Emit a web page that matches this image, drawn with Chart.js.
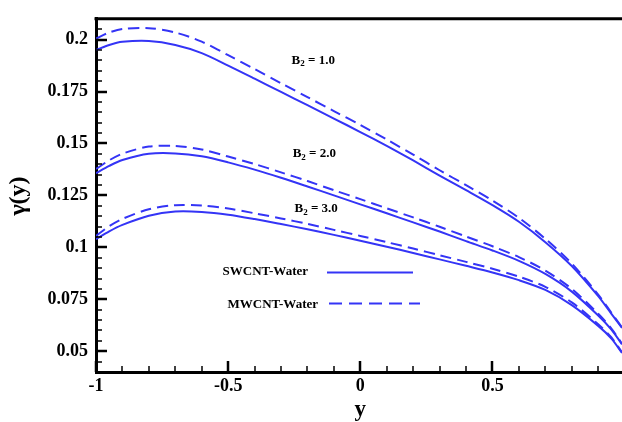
<!DOCTYPE html>
<html lang="en">
<head>
  <meta charset="UTF-8" />
  <title>gamma(y) profiles</title>
  <script src="https://cdn.jsdelivr.net/npm/chart.js"></script>
  <style>
    html, body { margin: 0; padding: 0; background: #fff; }
    #wrap { width: 622px; height: 422px; }
  </style>
</head>
<body>
  <div id="wrap"><canvas id="gammaChart" width="622" height="422"></canvas></div>

  <script>
    // y positions where the curves were read
    const yPos = [-1, -0.95, -0.9, -0.8, -0.7, -0.6, -0.5, -0.4, -0.3, -0.2, -0.1, 0,
                  0.1, 0.2, 0.3, 0.4, 0.5, 0.6, 0.7, 0.8, 0.9, 0.95, 0.99];

    // SWCNT-Water (solid) and MWCNT-Water (dashed) for B2 = 1, 2, 3
    const swcntB1 = [0.195, 0.1974, 0.1989, 0.1993, 0.1974, 0.1935, 0.1875, 0.1812, 0.1748, 0.1684, 0.162, 0.1555,
                     0.1488, 0.1418, 0.1345, 0.1275, 0.1203, 0.1123, 0.1025, 0.091, 0.0765, 0.068, 0.0612];
    const mwcntB1 = [0.2005, 0.2034, 0.2051, 0.2055, 0.2034, 0.199, 0.1925, 0.1858, 0.179, 0.1723, 0.1656, 0.1589,
                     0.1519, 0.1446, 0.1371, 0.1299, 0.1225, 0.1142, 0.1041, 0.0922, 0.0773, 0.0685, 0.0615];
    const swcntB2 = [0.1357, 0.1392, 0.142, 0.145, 0.1452, 0.1438, 0.1409, 0.1374, 0.1335, 0.1293, 0.125, 0.1207,
                     0.1164, 0.112, 0.1076, 0.103, 0.0985, 0.0935, 0.0872, 0.0787, 0.0672, 0.0604, 0.0533];
    const mwcntB2 = [0.1377, 0.1419, 0.1451, 0.1485, 0.1488, 0.1471, 0.1437, 0.1401, 0.1361, 0.1319, 0.1275, 0.1232,
                     0.1188, 0.1144, 0.1099, 0.1052, 0.1005, 0.0953, 0.0888, 0.08, 0.068, 0.0609, 0.0536];
    const swcntB3 = [0.1039, 0.1077, 0.1108, 0.1152, 0.1172, 0.117, 0.1157, 0.1136, 0.1112, 0.1087, 0.106, 0.1032,
                     0.1003, 0.0973, 0.0942, 0.0911, 0.0879, 0.0842, 0.0795, 0.0722, 0.0622, 0.0561, 0.0492];
    const mwcntB3 = [0.1055, 0.1102, 0.1137, 0.1183, 0.1203, 0.1201, 0.1187, 0.1164, 0.1139, 0.1113, 0.1084, 0.1055,
                     0.1025, 0.0994, 0.0962, 0.093, 0.0897, 0.0859, 0.081, 0.0735, 0.063, 0.0566, 0.0495];

    const xTicks = [-1, -0.5, 0, 0.5];
    const yTicks = [0.05, 0.075, 0.1, 0.125, 0.15, 0.175, 0.2];

    // curve labels: text + anchor (data coords)
    const curveLabels = [
      { b: '1.0', x: -0.178, y: 0.1901 },
      { b: '2.0', x: -0.174, y: 0.1453 },
      { b: '3.0', x: -0.167, y: 0.1184 }
    ];

    const blue = '#3434f6';
    const serif = '"Liberation Serif", "Times New Roman", serif';
    const dash = [11, 6];

    function pts(vals) {
      return yPos.map((x, i) => ({ x: x, y: vals[i] }));
    }

    function series(label, vals, dashed) {
      return {
        label: label,
        data: pts(vals),
        borderColor: blue,
        borderWidth: 2,
        borderDash: dashed ? dash : [],
        pointRadius: 0,
        fill: false,
        tension: 0.3
      };
    }

    // inward ticks, top border, titles, curve labels and the little legend
    const decor = {
      id: 'decor',
      afterDraw(chart) {
        const ctx = chart.ctx;
        const a = chart.chartArea;
        const sx = chart.scales.x, sy = chart.scales.y;
        ctx.save();
        ctx.strokeStyle = '#000';

        // x ticks every 0.1, major every 0.5
        for (let k = -10; k <= 9; k++) {
          const px = Math.round(sx.getPixelForValue(k / 10));
          const major = k % 5 === 0;
          ctx.lineWidth = major ? 2.5 : 1.5;
          ctx.beginPath();
          ctx.moveTo(px, a.bottom);
          ctx.lineTo(px, a.bottom - (major ? 11 : 6));
          ctx.stroke();
        }
        // y ticks every 0.005, major every 0.025
        for (let k = 8; k <= 42; k++) {
          const py = Math.round(sy.getPixelForValue(k * 0.005));
          const major = k % 5 === 0;
          ctx.lineWidth = major ? 2.5 : 1.5;
          ctx.beginPath();
          ctx.moveTo(a.left, py);
          ctx.lineTo(a.left + (major ? 11 : 6), py);
          ctx.stroke();
        }

        // top frame line
        ctx.lineWidth = 3;
        ctx.beginPath();
        ctx.moveTo(a.left - 1.5, a.top);
        ctx.lineTo(a.right, a.top);
        ctx.stroke();

        ctx.fillStyle = '#000';
        // axis titles
        ctx.font = 'bold 23px ' + serif;
        ctx.textAlign = 'center';
        ctx.textBaseline = 'middle';
        ctx.fillText('y', sx.getPixelForValue(0), 410);
        ctx.save();
        ctx.translate(19, 196);
        ctx.rotate(-Math.PI / 2);
        ctx.font = 'bold 24px ' + serif;
        ctx.fillText('\u03b3(y)', 0, 0);
        ctx.restore();

        // B2 labels
        curveLabels.forEach(l => {
          const cx = sx.getPixelForValue(l.x);
          const cy = sy.getPixelForValue(l.y);
          ctx.font = 'bold 13px ' + serif;
          const wB = ctx.measureText('B').width;
          const rest = ' = ' + l.b;
          const wR = ctx.measureText(rest).width;
          ctx.font = 'bold 9px ' + serif;
          const wS = ctx.measureText('2').width;
          const x0 = cx - (wB + wS + wR) / 2;
          ctx.textAlign = 'left';
          ctx.font = 'bold 13px ' + serif;
          ctx.fillText('B', x0, cy);
          ctx.font = 'bold 9px ' + serif;
          ctx.fillText('2', x0 + wB, cy + 4);
          ctx.font = 'bold 13px ' + serif;
          ctx.fillText(rest, x0 + wB + wS, cy);
        });

        // legend
        ctx.font = 'bold 13px ' + serif;
        ctx.textAlign = 'right';
        ctx.fillText('SWCNT-Water', 308, 272);
        ctx.fillText('MWCNT-Water', 318, 305);
        ctx.strokeStyle = blue;
        ctx.lineWidth = 2;
        ctx.beginPath();
        ctx.moveTo(327, 272.5);
        ctx.lineTo(413, 272.5);
        ctx.stroke();
        ctx.setLineDash([13, 7]);
        ctx.beginPath();
        ctx.moveTo(329, 303.5);
        ctx.lineTo(420, 303.5);
        ctx.stroke();
        ctx.restore();
      }
    };

    const ctx = document.getElementById('gammaChart').getContext('2d');
    new Chart(ctx, {
      type: 'line',
      data: {
        datasets: [
          series('SWCNT-Water B2=1.0', swcntB1, false),
          series('MWCNT-Water B2=1.0', mwcntB1, true),
          series('SWCNT-Water B2=2.0', swcntB2, false),
          series('MWCNT-Water B2=2.0', mwcntB2, true),
          series('SWCNT-Water B2=3.0', swcntB3, false),
          series('MWCNT-Water B2=3.0', mwcntB3, true)
        ]
      },
      options: {
        responsive: false,
        animation: false,
        layout: { padding: { top: 11, right: 0, left: 0, bottom: 0 } },
        plugins: { legend: { display: false }, tooltip: { enabled: false } },
        scales: {
          x: {
            type: 'linear',
            min: -1,
            max: 0.99,
            afterBuildTicks: s => { s.ticks = xTicks.map(v => ({ value: v })); },
            afterFit: s => { s.height = 50; },
            grid: { display: false, drawTicks: false },
            border: { display: true, color: '#000', width: 3 },
            ticks: {
              padding: 4,
              color: '#000',
              font: { family: serif, size: 18, weight: 'bold' },
              callback: v => String(v)
            }
          },
          y: {
            type: 'linear',
            min: 0.04,
            max: 0.21,
            afterBuildTicks: s => { s.ticks = yTicks.map(v => ({ value: v })); },
            afterFit: s => { s.width = 96; },
            grid: { display: false, drawTicks: false },
            border: { display: true, color: '#000', width: 3 },
            ticks: {
              padding: 8,
              color: '#000',
              font: { family: serif, size: 18, weight: 'bold' },
              callback: v => String(Number(v.toFixed(3)))
            }
          }
        }
      },
      plugins: [decor]
    });
  </script>
</body>
</html>
